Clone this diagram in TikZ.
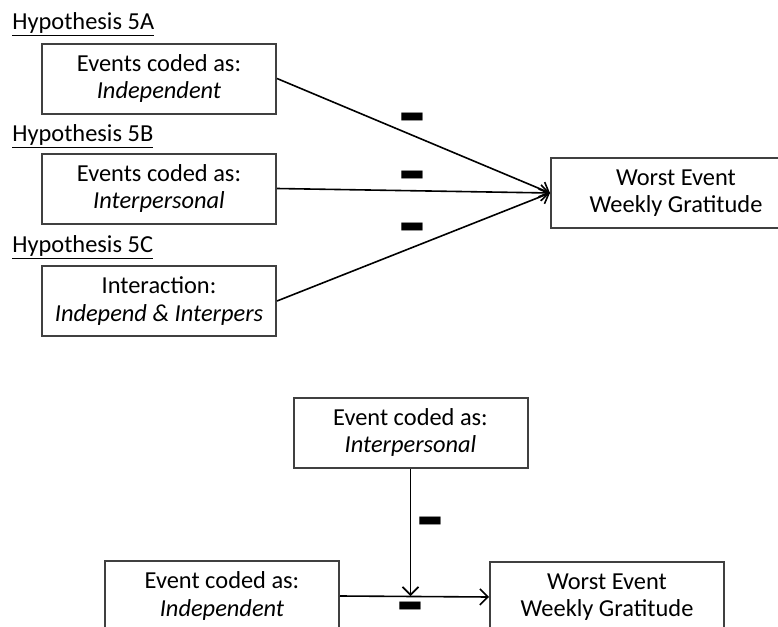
\documentclass[tikz,border=0pt]{standalone}
\usepackage{fontspec}
\setmainfont{Carlito}
\usetikzlibrary{positioning,arrows.meta}
\tikzset{
  box/.style={draw=black!75, line width=1pt, minimum width=117pt,
    minimum height=35pt, inner sep=0pt, align=center,
    font=\fontsize{12.2}{13.6}\selectfont},
  hyp/.style={anchor=base west, inner sep=0pt,
    font=\fontsize{12.2}{13.6}\selectfont},
  sign/.style={inner sep=0pt, text height=0pt, text depth=0pt,
    font=\fontsize{10}{10}\selectfont\bfseries},
  link/.style={-{Straight Barb[length=4pt,width=8pt]}, line width=0.8pt}
}
\newcommand{\negsign}{\scalebox{3}[4.5]{\raisebox{-0.26em}[0pt][0pt]{--}}}
\begin{document}
\begin{tikzpicture}[x=0.5pt, y=-0.5pt]
  \clip (0,0) rectangle (778,627);
  % hypotheses 5A to 5C
  \node[hyp] (h5a) at (12,29) {\underline{Hypothesis 5A}};
  \node[hyp] (h5b) at (12,141) {\underline{Hypothesis 5B}};
  \node[hyp] (h5c) at (12,252) {\underline{Hypothesis 5C}};
  \node[box] (indep) at (159,78.5) {Events coded as:\\\textit{Independent}};
  \node[box] (ipers) at (159,188.5) {Events coded as:\\\textit{Interpersonal}};
  \node[box] (inter) at (159,301) {Interaction:\\\textit{Independ \& Interpers}};
  \node[box, minimum width=125pt] (worst) at (676,193) {Worst Event\\Weekly Gratitude};
  \begin{scope}[link]
    \draw (indep.east) to (worst.west);
    \draw (ipers.east) to (worst.west);
    \draw (inter.east) to (worst.west);
  \end{scope}
  \node[sign] (s5a) at (412,119) {\negsign};
  \node[sign] (s5b) at (412,177) {\negsign};
  \node[sign] (s5c) at (412,229) {\negsign};
  % moderation
  \node[box] (mod) at (410.5,432.5) {Event coded as:\\\textit{Interpersonal}};
  \node[box] (base) at (222,596) {Event coded as:\\\textit{Independent}};
  \node[box] (out) at (607,597) {Worst Event\\Weekly Gratitude};
  \coordinate (join) at (mod.south |- base.east);
  \begin{scope}[link]
    \draw (base.east) to (out.west);
    \draw (mod.south) to (join);
  \end{scope}
  \node[sign] (smod) at (430,523) {\negsign};
  \node[sign] (sbase) at (410,608) {\negsign};
\end{tikzpicture}
\end{document}
